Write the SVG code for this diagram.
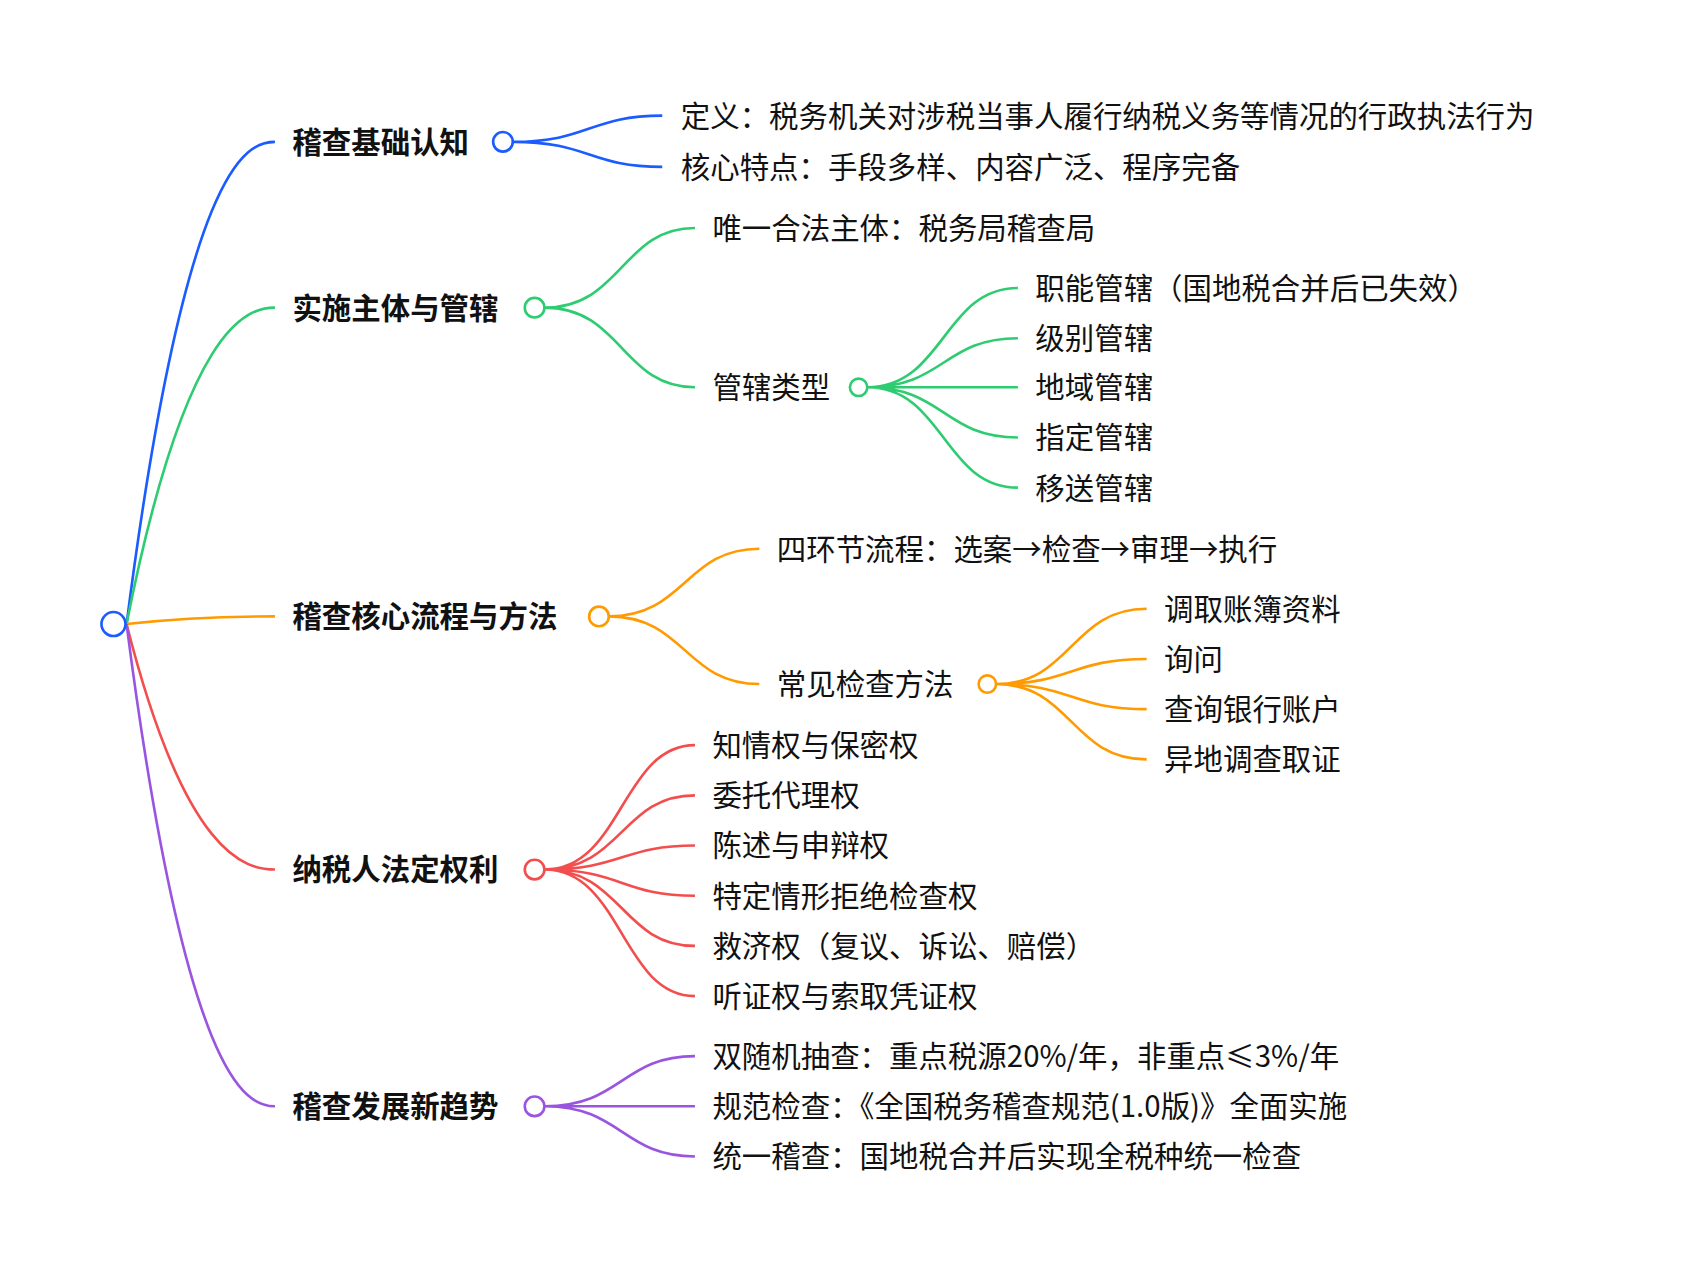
<svg xmlns="http://www.w3.org/2000/svg" width="1702" height="1267" viewBox="0 0 1702 1267">
<style>
text{font-family:"Noto Sans CJK SC","Noto Sans",sans-serif;font-size:27px;fill:#111}
.b{font-weight:bold}
path{fill:none;stroke-width:2.4}
circle{fill:#fff;stroke-width:2.4}
.bl{stroke:#1a5cff}.gr{stroke:#2ecc71}.or{stroke:#ff9a00}.rd{stroke:#f24e4e}.pu{stroke:#9a55e0}
</style>
<rect width="1702" height="1267" fill="#fff"/>
<g transform="scale(1.091)">
<g id="connectors">
<path class="bl" d="M116 572C170 152 225 130 252 130"/>
<path class="gr" d="M116 572C170 300 225 282 252 282"/>
<path class="or" d="M116 572C170 566 225 565 252 565"/>
<path class="rd" d="M116 572C170 785 225 797 252 797"/>
<path class="pu" d="M116 572C170 990 225 1014 252 1014"/>
<path class="bl" d="M470 130C540 130 540 106 607 106M470 130C540 130 540 153 607 153"/>
<path class="gr" d="M499 282C570 282 570 209 637 209M499 282C570 282 570 355 637 355"/>
<path class="gr" d="M795 355C865 355 865 264 933 264M795 355C865 355 865 310 933 310M795 355L933 355M795 355C865 355 865 401 933 401M795 355C865 355 865 447 933 447"/>
<path class="or" d="M558 565C628 565 628 503 696 503M558 565C628 565 628 627 696 627"/>
<path class="or" d="M913 627C982 627 982 558 1051 558M913 627C982 627 982 604 1051 604M913 627C982 627 982 650 1051 650M913 627C982 627 982 696 1051 696"/>
<path class="rd" d="M499 797C570 797 570 683 637 683M499 797C570 797 570 729 637 729M499 797C570 797 570 775 637 775M499 797C570 797 570 821 637 821M499 797C570 797 570 867 637 867M499 797C570 797 570 913 637 913"/>
<path class="pu" d="M499 1014C570 1014 570 968 637 968M499 1014L637 1014M499 1014C570 1014 570 1060 637 1060"/>
</g>
<g id="root"><circle class="bl" cx="104" cy="572" r="11" stroke-width="3"/></g>
<g id="n1"><text class="b" x="268" y="140">稽查基础认知</text><circle class="bl" cx="461" cy="130" r="9"/>
<text x="624" y="116">定义：税务机关对涉税当事人履行纳税义务等情况的行政执法行为</text>
<text x="624" y="163">核心特点：手段多样、内容广泛、程序完备</text></g>
<g id="n2"><text class="b" x="268" y="292">实施主体与管辖</text><circle class="gr" cx="490" cy="282" r="9"/>
<text x="653" y="219">唯一合法主体：税务局稽查局</text>
<text x="653" y="365">管辖类型</text><circle class="gr" cx="787" cy="355" r="8"/>
<text x="949" y="274">职能管辖（国地税合并后已失效）</text>
<text x="949" y="320">级别管辖</text>
<text x="949" y="365">地域管辖</text>
<text x="949" y="411">指定管辖</text>
<text x="949" y="457">移送管辖</text></g>
<g id="n3"><text class="b" x="268" y="575">稽查核心流程与方法</text><circle class="or" cx="549" cy="565" r="9"/>
<text x="712" y="513">四环节流程：选案→检查→审理→执行</text>
<text x="712" y="637">常见检查方法</text><circle class="or" cx="905" cy="627" r="8"/>
<text x="1067" y="568">调取账簿资料</text>
<text x="1067" y="614">询问</text>
<text x="1067" y="660">查询银行账户</text>
<text x="1067" y="706">异地调查取证</text></g>
<g id="n4"><text class="b" x="268" y="807">纳税人法定权利</text><circle class="rd" cx="490" cy="797" r="9"/>
<text x="653" y="693">知情权与保密权</text>
<text x="653" y="739">委托代理权</text>
<text x="653" y="785">陈述与申辩权</text>
<text x="653" y="831">特定情形拒绝检查权</text>
<text x="653" y="877">救济权（复议、诉讼、赔偿）</text>
<text x="653" y="923">听证权与索取凭证权</text></g>
<g id="n5"><text class="b" x="268" y="1024">稽查发展新趋势</text><circle class="pu" cx="490" cy="1014" r="9"/>
<text x="653" y="978">双随机抽查：重点税源20%/年，非重点≤3%/年</text>
<text x="653" y="1024">规范检查：《全国税务稽查规范(1.0版)》全面实施</text>
<text x="653" y="1070">统一稽查：国地税合并后实现全税种统一检查</text></g>
</g>
</svg>
